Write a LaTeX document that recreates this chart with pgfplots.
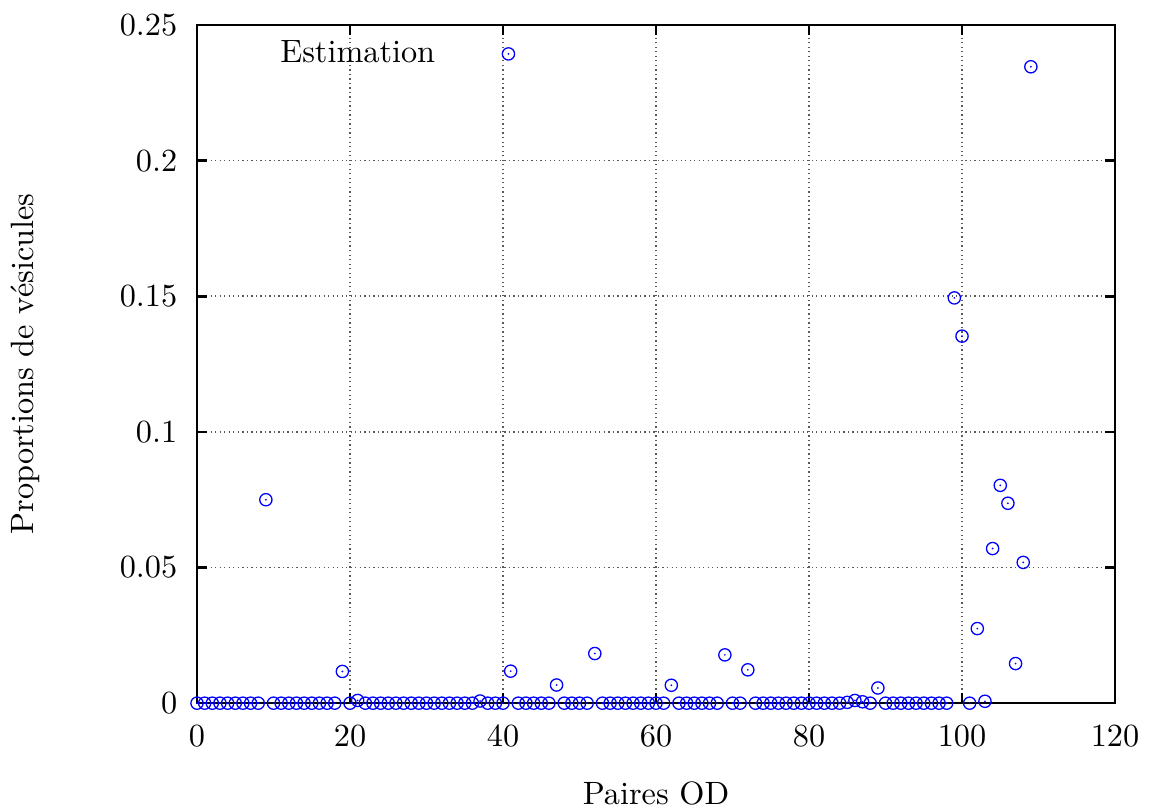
\documentclass[border=0pt]{standalone}
\usepackage{pgfplots}
\pgfplotsset{compat=1.18}
\usepackage{pgfplotstable}
\pgfdeclareplotmark{odot}{%
  \pgfpathcircle{\pgfpointorigin}{\pgfplotmarksize}\pgfusepathqstroke
  \pgfpathcircle{\pgfpointorigin}{0.3pt}\pgfusepathqfill}
\pgfplotstableread{
x y
0 0
1 0
2 0
3 0
4 0
5 0
6 0
7 0
8 0
9 0.075
10 0
11 0
12 0
13 0
14 0
15 0
16 0
17 0
18 0
19 0.0117
20 0
21 0.001
22 0
23 0
24 0
25 0
26 0
27 0
28 0
29 0
30 0
31 0
32 0
33 0
34 0
35 0
36 0
37 0.0008
38 0
39 0
40 0
41 0.0118
42 0
43 0
44 0
45 0
46 0
47 0.0067
48 0
49 0
50 0
51 0
52 0.0183
53 0
54 0
55 0
56 0
57 0
58 0
59 0
60 0
61 0
62 0.0066
63 0
64 0
65 0
66 0
67 0
68 0
69 0.0178
70 0
71 0
72 0.0123
73 0
74 0
75 0
76 0
77 0
78 0
79 0
80 0
81 0
82 0
83 0
84 0
85 0.0003
86 0.001
87 0.0005
88 0
89 0.0056
90 0
91 0
92 0
93 0
94 0
95 0
96 0
97 0
98 0
99 0.1494
100 0.1353
101 0
102 0.0275
103 0.0007
104 0.0570
105 0.0803
106 0.0737
107 0.0146
108 0.0519
109 0.2346
}\datatable
\begin{document}
\begin{tikzpicture}
\begin{axis}[
  scale only axis, width=284.4pt, height=210.1pt,
  xmin=0, xmax=120, ymin=0, ymax=0.25,
  clip=false,
  xtick={0,20,40,60,80,100,120},
  ytick={0,0.05,0.1,0.15,0.2,0.25},
  yticklabel style={/pgf/number format/fixed, /pgf/number format/precision=2, xshift=-2.6pt},
  xticklabel style={yshift=-3.5pt},
  grid=major, grid style={densely dotted, black!65, line width=0.5pt},
  axis line style={line width=0.8pt},
  major tick length=3pt, tick style={black, line width=0.8pt},
  xlabel={Paires OD}, ylabel={Proportions de vésicules},
  every axis x label/.style={at={(axis description cs:0.5,-0.1329)}, anchor=center},
  every axis y label/.style={at={(axis description cs:-0.1873,0.5)}, rotate=90, anchor=center},
  legend plot pos=right,
  legend style={draw=none, fill=none, at={(axis description cs:0,1)}, anchor=north west,
    xshift=23.6pt, yshift=-2.6pt, inner sep=0pt, column sep=18.8pt},
]
\addplot[only marks, mark=odot, mark size=1.9pt, color=blue, mark options={line width=0.4pt}] table[x=x,y=y] {\datatable};
\addlegendentry{Estimation}
\end{axis}
\pgfresetboundingbox
\path ([xshift=-61.04pt,yshift=-33.46pt]current axis.south west) rectangle ([xshift=10.53pt,yshift=7.75pt]current axis.north east);
\end{tikzpicture}
\end{document}
